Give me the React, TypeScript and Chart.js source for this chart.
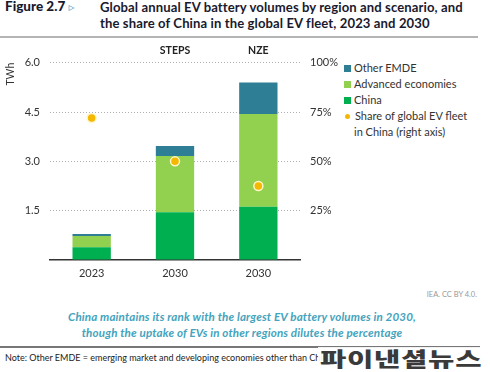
import React, { useEffect, useRef } from "react";
import { Chart, registerables } from "chart.js";

Chart.register(...registerables);

const categories = ["2023", "2030", "2030"];
const scenarioLabels = ["", "STEPS", "NZE"];
const chinaValues = [0.39, 1.45, 1.62];
const advancedValues = [0.34, 1.71, 2.82];
const otherEmdeValues = [0.06, 0.31, 0.96];
const chinaShare = [72, 50, 37.5];
const leftTicks = [0, 1.5, 3.0, 4.5, 6.0];
const rightTicks = [0, 25, 50, 75, 100];

const C_CHINA = "#00b050";
const C_ADV = "#92d050";
const C_EMDE = "#2e7f96";
const C_SHARE = "#f5b800";

const FONT = "Lato, 'Open Sans', 'DejaVu Sans', sans-serif";

export default function App() {
  const ref = useRef<HTMLCanvasElement | null>(null);

  useEffect(() => {
    if (!ref.current) return;
    const chart = new Chart(ref.current, {
      type: "bar",
      data: {
        labels: categories,
        datasets: [
          {
            type: "line",
            label: "Share of global EV fleet in China (right axis)",
            data: chinaShare,
            yAxisID: "y2",
            showLine: false,
            pointRadius: 4.5,
            pointBackgroundColor: C_SHARE,
            pointBorderColor: "#fff6c8",
            pointBorderWidth: 1.5,
            order: 0,
          } as any,
          {
            label: "China",
            data: chinaValues,
            backgroundColor: C_CHINA,
            stack: "s",
            order: 1,
          },
          {
            label: "Advanced economies",
            data: advancedValues,
            backgroundColor: C_ADV,
            stack: "s",
            order: 1,
          },
          {
            label: "Other EMDE",
            data: otherEmdeValues,
            backgroundColor: C_EMDE,
            stack: "s",
            order: 1,
          },
        ],
      },
      options: {
        animation: false,
        responsive: false,
        maintainAspectRatio: false,
        layout: { padding: 0 },
        datasets: {
          bar: { barPercentage: 0.46, categoryPercentage: 1 },
        },
        plugins: {
          legend: { display: false },
          tooltip: { enabled: false },
          title: { display: false },
        },
        scales: {
          x: {
            stacked: true,
            grid: { display: false, drawTicks: false },
            border: { display: true, color: "#333", width: 1.5 },
            ticks: {
              padding: 7,
              color: "#333",
              font: { family: FONT, size: 11 },
            },
            afterFit: (s: any) => {
              s.height = 30;
            },
          },
          x2: {
            type: "category",
            position: "top",
            labels: scenarioLabels,
            grid: { display: false, drawTicks: false },
            border: { display: false },
            ticks: {
              padding: 6,
              color: "#222",
              font: { family: FONT, size: 10.5, weight: "bold" },
            },
            afterFit: (s: any) => {
              s.height = 22.7;
            },
          },
          y: {
            stacked: true,
            min: 0,
            max: 6,
            afterBuildTicks: (s: any) => {
              s.ticks = leftTicks.map((v) => ({ value: v }));
            },
            grid: {
              drawTicks: false,
              color: (ctx: any) =>
                ctx.tick && ctx.tick.value === 0 ? "rgba(0,0,0,0)" : "#b0b0b0",
              lineWidth: 1,
            },
            border: { display: false, dash: [1, 2] },
            ticks: {
              padding: 10,
              color: "#333",
              font: { family: FONT, size: 11 },
              callback: (v: any) => (Number(v) === 0 ? "" : Number(v).toFixed(1)),
            },
            title: {
              display: true,
              text: "TWh",
              align: "end",
              color: "#333",
              padding: { top: 4, bottom: 0 },
              font: { family: FONT, size: 10.5 },
            },
            afterFit: (s: any) => {
              s.width = 50;
            },
          },
          y2: {
            position: "right",
            min: 0,
            max: 100,
            afterBuildTicks: (s: any) => {
              s.ticks = rightTicks.map((v) => ({ value: v }));
            },
            grid: { display: false, drawTicks: false },
            border: { display: false },
            ticks: {
              padding: 10,
              color: "#333",
              font: { family: FONT, size: 11 },
              callback: (v: any) => (Number(v) === 0 ? "" : v + "%"),
            },
            afterFit: (s: any) => {
              s.width = 40;
            },
          },
        },
      },
    });
    return () => chart.destroy();
  }, []);

  const legendItems = [
    { label: "Other EMDE", color: C_EMDE, dot: false },
    { label: "Advanced economies", color: C_ADV, dot: false },
    { label: "China", color: C_CHINA, dot: false },
    { label: "Share of global EV fleet", color: C_SHARE, dot: true },
  ];

  return (
    <div
      style={{
        position: "absolute",
        left: 0,
        top: 0,
        width: 490,
        height: 372,
        background: "#fff",
        overflow: "hidden",
        fontFamily: FONT,
      }}
    >
      {/* Title */}
      <div
        style={{
          position: "absolute",
          left: 5,
          top: -2,
          fontSize: 13.5,
          fontWeight: 900,
          color: "#1a1a2e",
          lineHeight: "16px",
          whiteSpace: "nowrap",
        }}
      >
        Figure 2.7 <span style={{ color: "#5aaed0", fontSize: 12 }}>▹</span>
      </div>
      <div
        style={{
          position: "absolute",
          left: 100,
          top: -1,
          fontSize: 13.1,
          fontWeight: 700,
          color: "#1a1a2e",
          lineHeight: "16px",
          letterSpacing: 0.1,
          whiteSpace: "nowrap",
        }}
      >
        Global annual EV battery volumes by region and scenario, and
        <br />
        the share of China in the global EV fleet, 2023 and 2030
      </div>
      <div
        style={{
          position: "absolute",
          left: 0,
          top: 36,
          width: 478,
          height: 2,
          background: "#b4b4b4",
        }}
      />

      <canvas
        ref={ref}
        width={340}
        height={250}
        style={{ position: "absolute", left: 0, top: 40, width: 340, height: 250 }}
      />

      {/* Legend */}
      <div
        style={{
          position: "absolute",
          left: 344,
          top: 60,
          fontSize: 11,
          color: "#333",
          lineHeight: "16px",
        }}
      >
        {legendItems.map((it) => (
          <div key={it.label} style={{ display: "flex", alignItems: "center", whiteSpace: "nowrap" }}>
            <span
              style={{
                display: "inline-block",
                width: it.dot ? 5 : 7,
                height: it.dot ? 5 : 7,
                borderRadius: it.dot ? "50%" : 0,
                background: it.color,
                marginRight: it.dot ? 5 : 3,
                marginLeft: it.dot ? 1 : 0,
              }}
            />
            {it.label}
          </div>
        ))}
        <div style={{ paddingLeft: 10, whiteSpace: "nowrap" }}>in China (right axis)</div>
      </div>

      {/* Source */}
      <div
        style={{
          position: "absolute",
          right: 13,
          top: 290,
          fontSize: 7.5,
          color: "#999",
          whiteSpace: "nowrap",
        }}
      >
        IEA. CC BY 4.0.
      </div>

      {/* Subtitle */}
      <div
        style={{
          position: "absolute",
          left: 0,
          width: 484,
          top: 309,
          textAlign: "center",
          fontSize: 11.6,
          fontWeight: 700,
          fontStyle: "italic",
          color: "#44a3bd",
          lineHeight: "16px",
          letterSpacing: 0.15,
        }}
      >
        China maintains its rank with the largest EV battery volumes in 2030,
        <br />
        though the uptake of EVs in other regions dilutes the percentage
      </div>
      <div
        style={{
          position: "absolute",
          left: 0,
          top: 346,
          width: 480,
          height: 1.5,
          background: "#777",
        }}
      />

      {/* Note */}
      <div
        style={{
          position: "absolute",
          left: 5,
          top: 352,
          fontSize: 9,
          color: "#222",
          whiteSpace: "nowrap",
        }}
      >
        Note: Other EMDE = emerging market and developing economies other than China.
      </div>

      {/* Watermark */}
      <div
        style={{
          position: "absolute",
          left: 318,
          top: 347,
          width: 172,
          height: 25,
          background: "rgba(255,255,255,0.9)",
        }}
      />
      <div
        style={{
          position: "absolute",
          left: 320,
          top: 347,
          fontSize: 20,
          fontWeight: 900,
          fontFamily: "'Noto Sans CJK KR', sans-serif",
          color: "#3a3a3a",
          letterSpacing: 0.5,
          whiteSpace: "nowrap",
          lineHeight: "24px",
          transform: "scaleX(1.43)",
          transformOrigin: "left top",
        }}
      >
        파이낸셜뉴스
      </div>
    </div>
  );
}
